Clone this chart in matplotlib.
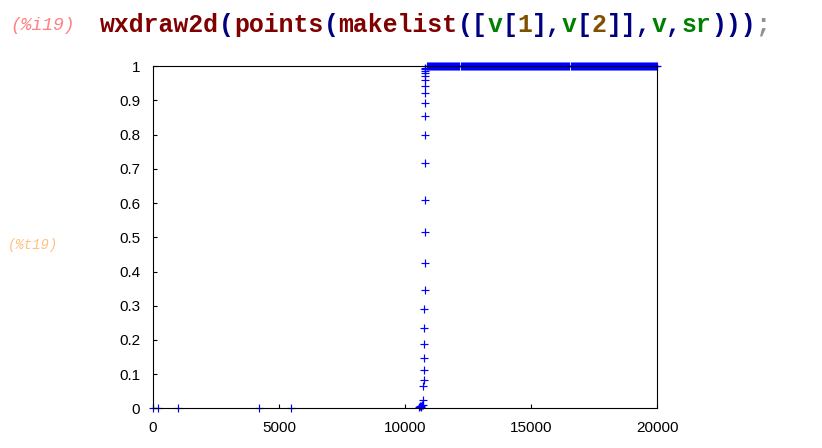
#imports
import numpy as np
import matplotlib.pyplot as plt
import matplotlib.ticker as ticker


#--------- data ---------
# points sitting on zero at the start
low_x = [0, 220, 1020, 4200, 5470]
low_y = [0, 0, 0, 0, 0]

# the steep rise around x ~ 10700
rise_x = [10560, 10600, 10630, 10650, 10680, 10700, 10720, 10730, 10740,
          10750, 10760, 10760, 10770, 10770, 10780, 10780, 10780, 10780,
          10790, 10790, 10790, 10790, 10790, 10790, 10790, 10790, 10790,
          10790, 10800, 10800]
rise_y = [0.003, 0.006, 0.004, 0.008, 0.010, 0.009, 0.025, 0.066, 0.082,
          0.113, 0.148, 0.189, 0.236, 0.289, 0.347, 0.426, 0.515, 0.610,
          0.716, 0.800, 0.856, 0.894, 0.921, 0.943, 0.959, 0.971, 0.979,
          0.986, 0.991, 0.995]

# dense band of points at y = 1 up to the end (reads as a solid bar)
plateau_x = [
    10880, 10920, 10960, 11000, 11040, 11080, 11120, 11160, 11200, 11240,
    11280, 11320, 11360, 11400, 11440, 11480, 11520, 11560, 11600, 11640,
    11680, 11720, 11760, 11800, 11840, 11880, 11920, 11960, 12000, 12040,
    12080, 12120, 12160, 12200, 12240, 12280, 12320, 12360, 12400, 12440,
    12480, 12520, 12560, 12600, 12640, 12680, 12720, 12760, 12800, 12840,
    12880, 12920, 12960, 13000, 13040, 13080, 13120, 13160, 13200, 13240,
    13280, 13320, 13360, 13400, 13440, 13480, 13520, 13560, 13600, 13640,
    13680, 13720, 13760, 13800, 13840, 13880, 13920, 13960, 14000, 14040,
    14080, 14120, 14160, 14200, 14240, 14280, 14320, 14360, 14400, 14440,
    14480, 14520, 14560, 14600, 14640, 14680, 14720, 14760, 14800, 14840,
    14880, 14920, 14960, 15000, 15040, 15080, 15120, 15160, 15200, 15240,
    15280, 15320, 15360, 15400, 15440, 15480, 15520, 15560, 15600, 15640,
    15680, 15720, 15760, 15800, 15840, 15880, 15920, 15960, 16000, 16040,
    16080, 16120, 16160, 16200, 16240, 16280, 16320, 16360, 16400, 16440,
    16480, 16520, 16560, 16600, 16640, 16680, 16720, 16760, 16800, 16840,
    16880, 16920, 16960, 17000, 17040, 17080, 17120, 17160, 17200, 17240,
    17280, 17320, 17360, 17400, 17440, 17480, 17520, 17560, 17600, 17640,
    17680, 17720, 17760, 17800, 17840, 17880, 17920, 17960, 18000, 18040,
    18080, 18120, 18160, 18200, 18240, 18280, 18320, 18360, 18400, 18440,
    18480, 18520, 18560, 18600, 18640, 18680, 18720, 18760, 18800, 18840,
    18880, 18920, 18960, 19000, 19040, 19080, 19120, 19160, 19200, 19240,
    19280, 19320, 19360, 19400, 19440, 19480, 19520, 19560, 19600, 19640,
    19680, 19720, 19760, 19800, 19840, 19880, 19920, 19960, 20000]
plateau_y = [1.0] * len(plateau_x)

x_ticks = [0, 5000, 10000, 15000, 20000]
y_ticks = [0, 0.1, 0.2, 0.3, 0.4, 0.5, 0.6, 0.7, 0.8, 0.9, 1]
y_tick_labels = ['0', '0.1', '0.2', '0.3', '0.4', '0.5', '0.6', '0.7', '0.8', '0.9', '1']

# input line, split by syntax colour
code_parts = [('wxdraw2d', '#800000'), ('(', '#000080'), ('points', '#800000'),
              ('(', '#000080'), ('makelist', '#800000'), ('([', '#000080'),
              ('v', '#008000'), ('[', '#000080'), ('1', '#805000'),
              ('],', '#000080'), ('v', '#008000'), ('[', '#000080'),
              ('2', '#805000'), (']],', '#000080'), ('v', '#008000'),
              (',', '#000080'), ('sr', '#008000'), (')))', '#000080'),
              (';', '#909090')]


#--------- figure ---------
W, H = 822, 448
fig = plt.figure(figsize=(W/100, H/100), dpi=100)
ax = fig.add_axes([152.7/W, 1 - 408.3/H, 504.6/W, 342/H])

all_x = low_x + rise_x + plateau_x
all_y = low_y + rise_y + plateau_y
pts, = ax.plot(all_x, all_y, '+', color='#0000ff', markersize=5.2,
               markeredgewidth=0.85, clip_on=False, zorder=3)
pts.set_snap(False)  # avoids white seams in the dense band

ax.set_xlim(0, 20000)
ax.set_ylim(0, 1)
ax.xaxis.set_major_locator(ticker.FixedLocator(x_ticks))
ax.yaxis.set_major_locator(ticker.FixedLocator(y_ticks))
ax.set_yticklabels(y_tick_labels)
ax.tick_params(direction='in', length=3, width=0.8, colors='black',
               labelsize=11, top=False, right=False, pad=9)
for lab in ax.get_xticklabels() + ax.get_yticklabels():
    lab.set_family('Liberation Sans')
for s in ax.spines.values():
    s.set_linewidth(0.8)
    s.set_zorder(4)

# wxMaxima labels and input line
fig.text(10/W, 1 - 26/H, '(%i19)', color='#ff8080', style='italic',
         family='Liberation Mono', fontsize=13, va='center')
fig.text(8/W, 1 - 245/H, '(%t19)', color='#ffc080', style='italic',
         family='Liberation Mono', fontsize=10, va='center')

cell = 14.9
i = 0
for txt, col in code_parts:
    fig.text((100 + i*cell)/W, 1 - 25/H, txt, color=col, family='Liberation Mono',
             fontweight='bold', fontsize=17.9, va='center', ha='left')
    i += len(txt)

fig.savefig('out.png', dpi=100)
